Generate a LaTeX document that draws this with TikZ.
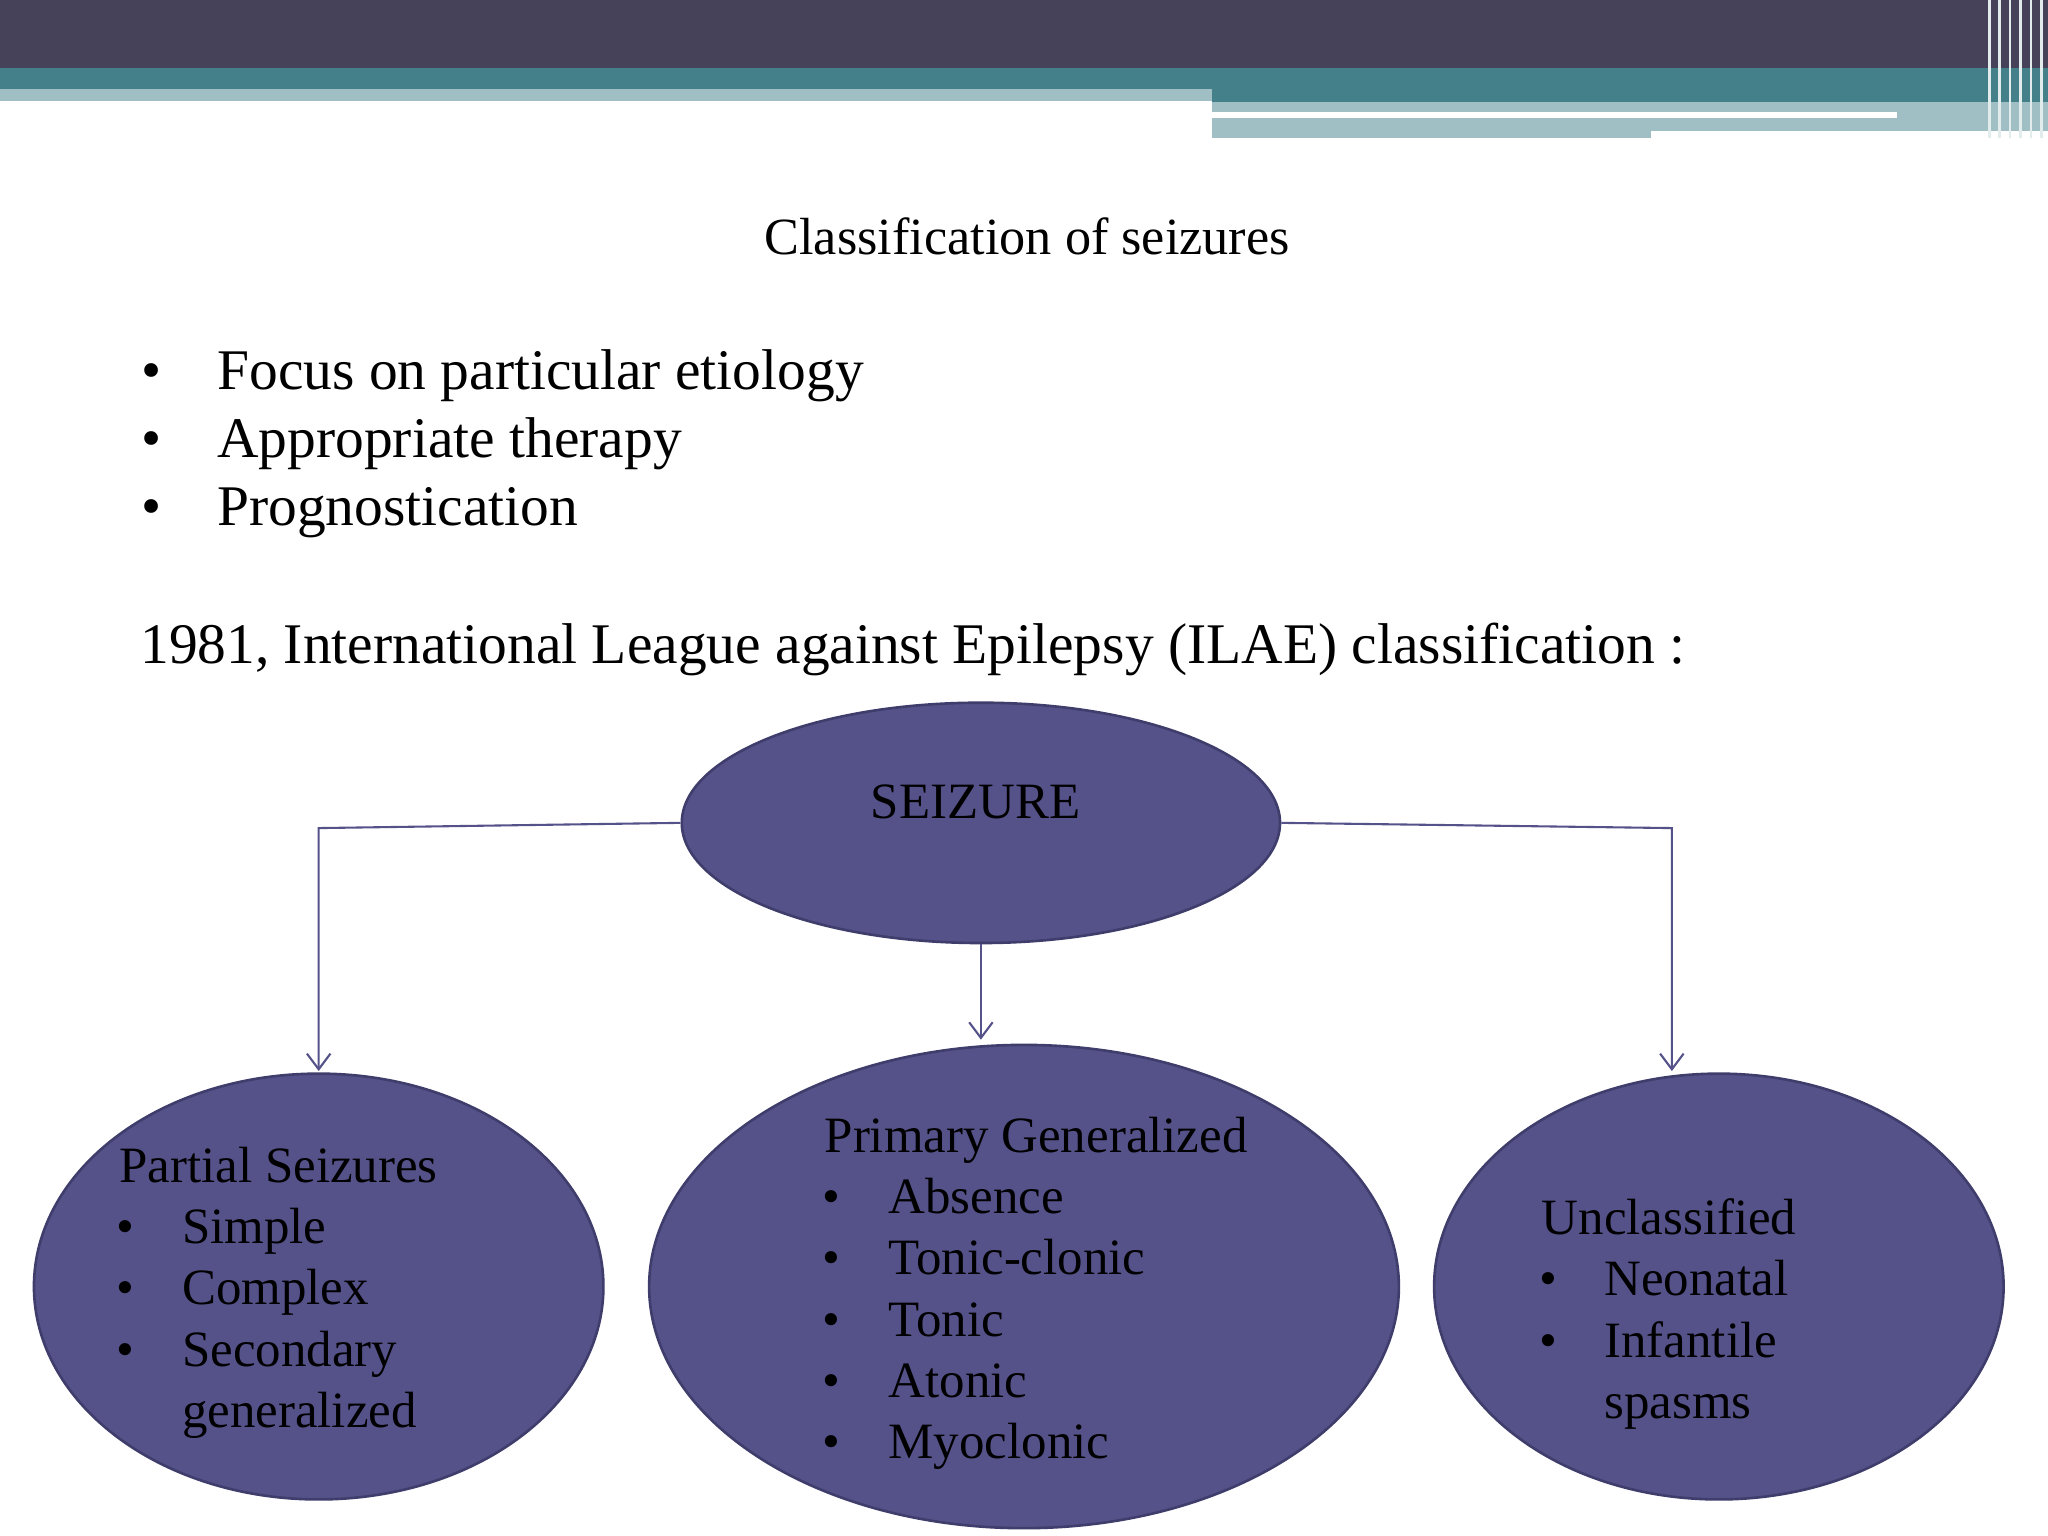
\documentclass[tikz,border=0pt]{standalone}
\usepackage{fontspec}
\setmainfont{Liberation Serif}
\usetikzlibrary{arrows.meta,shapes.geometric}
\definecolor{hdark}{HTML}{45425A}
\definecolor{hteal}{HTML}{44808A}
\definecolor{hlight}{HTML}{A0BFC4}
\definecolor{efill}{HTML}{55528A}
\definecolor{eline}{HTML}{3F3D6B}
\begin{document}
\begin{tikzpicture}[x=0.5pt,y=-0.5pt,
  txt/.style={inner sep=0,anchor=base west,font=\fontsize{19.5}{23}\selectfont},
  big/.style={inner sep=0,anchor=base west,font=\fontsize{22}{26}\selectfont},
  ell/.style={ellipse,draw=eline,line width=1pt,fill=efill,inner sep=0},
  conn/.style={draw=efill,line width=0.8pt,-{Straight Barb[length=6pt,width=9pt]}}]
\useasboundingbox (0,0) rectangle (1568,1176);
\fill[white] (0,0) rectangle (1568,1176);
% header
\fill[hdark] (0,0) rectangle (1568,52);
\fill[hteal] (0,52) rectangle (1568,68);
\fill[hlight] (0,68) rectangle (928,77);
\fill[hteal] (928,68) rectangle (1568,78);
\fill[hlight] (928,78) rectangle (1568,106);
\fill[white] (928,86) rectangle (1452,90);
\fill[white] (1264,100) rectangle (1568,106);
\foreach \x in {1522,1530,1538,1546,1554,1562}{\fill[white!70!hlight] (\x,0) rectangle (\x+2,106);}
% texts
\node[big,font=\fontsize{20}{24}\selectfont] (title) at (585,195) {Classification of seizures};
\node[big] (b1) at (108,298) {•}; \node[big] (t1) at (166,298) {Focus on particular etiology};
\node[big] (b2) at (108,350) {•}; \node[big] (t2) at (166,350) {Appropriate therapy};
\node[big] (b3) at (108,402) {•}; \node[big] (t3) at (166,402) {Prognostication};
\node[big] (ilae) at (107,508) {1981, International League against Epilepsy (ILAE) classification :};
% ellipses
\path (751,630) node[ell,minimum width=229pt,minimum height=92pt] (seiz) {};
\path (244,985) node[ell,minimum width=218pt,minimum height=163pt] (part) {};
\path (784,985) node[ell,minimum width=287pt,minimum height=185pt] (prim) {};
\path (1316,985) node[ell,minimum width=218pt,minimum height=163pt] (uncl) {};
\node[txt,anchor=base] (st) at (747,627) {SEIZURE};
% connectors
\coordinate (lc) at (244,634); \coordinate (le) at (244,820);
\coordinate (rc) at (1280,634); \coordinate (re) at (1280,820);
\coordinate (ms) at (751,722); \coordinate (me) at (751,796);
\draw[conn] (seiz.west) -- (lc) -- (le);
\draw[conn] (seiz.east) -- (rc) -- (re);
\draw[conn] (seiz.south) -- (me);
% partial
\node[txt] (p0) at (91,905) {Partial Seizures};
\foreach \i/\y/\t in {1/952/Simple,2/999/Complex,3/1046/Secondary}{
  \node[txt] (pb\i) at (89,\y) {•}; \node[txt] (pt\i) at (139,\y) {\t};}
\node[txt] (pt4) at (139,1093) {generalized};
% primary
\node[txt] (m0) at (631,882) {Primary Generalized};
\foreach \i/\y/\t in {1/929/Absence,2/976/Tonic-clonic,3/1023/Tonic,4/1070/Atonic,5/1117/Myoclonic}{
  \node[txt] (mb\i) at (629,\y) {•}; \node[txt] (mt\i) at (680,\y) {\t};}
% unclassified
\node[txt] (u0) at (1180,945) {Unclassified};
\foreach \i/\y/\t in {1/992/Neonatal,2/1039/Infantile}{
  \node[txt] (ub\i) at (1178,\y) {•}; \node[txt] (ut\i) at (1228,\y) {\t};}
\node[txt] (ut3) at (1228,1086) {spasms};
\end{tikzpicture}
\end{document}
